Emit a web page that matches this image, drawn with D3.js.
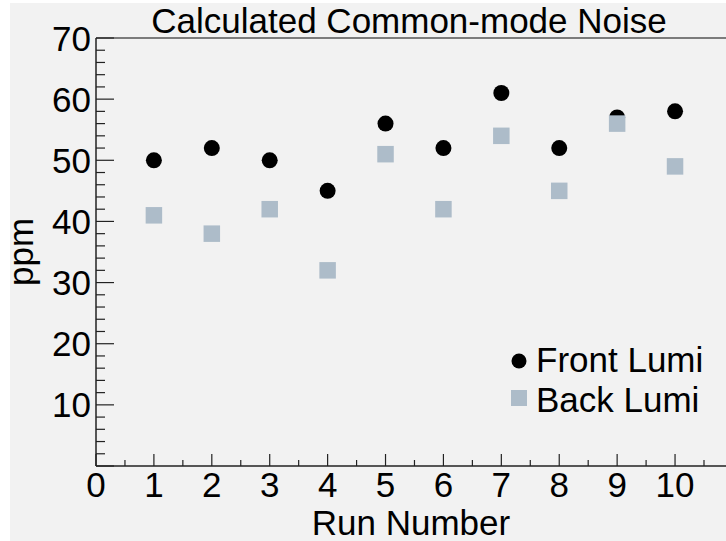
<!DOCTYPE html>
<html><head><meta charset="utf-8">
<script src="https://cdn.jsdelivr.net/npm/d3@7"></script>
<style>html,body{margin:0;padding:0;background:#fff;}svg{display:block;}text{font-family:"Liberation Sans",Arial,sans-serif;fill:#000;}</style>
</head><body>
<script>
const runs = [1,2,3,4,5,6,7,8,9,10];
const frontLumi = [50,52,50,45,56,52,61,52,57,58];
const backLumi = [41,38,42,32,51,42,54,45,56,49];
const xTicks = [0,1,2,3,4,5,6,7,8,9,10];
const yTicks = [10,20,30,40,50,60,70];
const seriesNames = ["Front Lumi","Back Lumi"];
const titleText = "Calculated Common-mode Noise";

const W = 726, H = 541, FS = 35;
const svg = d3.select("body").append("svg").attr("width", W).attr("height", H);
svg.append("rect").attr("x",10).attr("y",3).attr("width",W-10).attr("height",H-3).attr("fill","#f2f2f2");

const x = d3.scaleLinear().domain([0,10.88]).range([96,726]);
const y = d3.scaleLinear().domain([0,70]).range([466,38]);

// top frame
svg.append("line").attr("x1",96).attr("x2",W).attr("y1",y(70)).attr("y2",y(70)).attr("stroke","#555").attr("stroke-width",1.5);

// y axis
const yAxis = svg.append("g");
yAxis.append("line").attr("x1",96).attr("x2",96).attr("y1",y(0)).attr("y2",y(70)).attr("stroke","#222").attr("stroke-width",1.5);
const yMinor = d3.range(0,71,2);
yAxis.selectAll("line.t").data(yMinor).join("line").attr("class","t")
  .attr("x1",96).attr("x2",d=>d%10===0?114:105)
  .attr("y1",d=>y(d)).attr("y2",d=>y(d)).attr("stroke","#222").attr("stroke-width",1.2);
yAxis.selectAll("text").data(yTicks).join("text")
  .attr("x",91).attr("y",d=>y(d)+12.5).attr("text-anchor","end").attr("font-size",FS).text(d=>d);

// x axis
const xAxis = svg.append("g");
xAxis.append("line").attr("x1",96).attr("x2",W).attr("y1",y(0)).attr("y2",y(0)).attr("stroke","#222").attr("stroke-width",1.5);
const xMinor = d3.range(0,10.9,0.5);
xAxis.selectAll("line.t").data(xMinor).join("line").attr("class","t")
  .attr("x1",d=>x(d)).attr("x2",d=>x(d))
  .attr("y1",y(0)).attr("y2",d=>Number.isInteger(d)?y(0)-12:y(0)-6).attr("stroke","#222").attr("stroke-width",1.2);
xAxis.selectAll("text").data(xTicks).join("text")
  .attr("x",d=>x(d)).attr("y",y(0)+31).attr("text-anchor","middle").attr("font-size",FS).text(d=>d);

// titles
svg.append("text").attr("x",409).attr("y",33).attr("text-anchor","middle").attr("font-size",FS).text(titleText);
svg.append("text").attr("x",411).attr("y",535).attr("text-anchor","middle").attr("font-size",FS).text("Run Number");
svg.append("text").attr("transform","translate(33,252) rotate(-90)").attr("text-anchor","middle").attr("font-size",FS).text("ppm");

// data
svg.append("g").selectAll("circle").data(runs).join("circle")
  .attr("cx",(d)=>x(d)).attr("cy",(d,i)=>y(frontLumi[i])).attr("r",8).attr("fill","#000");
const S = 16.5;
svg.append("g").selectAll("rect").data(runs).join("rect")
  .attr("x",d=>x(d)-S/2).attr("y",(d,i)=>y(backLumi[i])-S/2).attr("width",S).attr("height",S).attr("fill","#adbcc9");

// legend
const lg = svg.append("g");
lg.append("circle").attr("cx",519).attr("cy",361).attr("r",7.5).attr("fill","#000");
lg.append("rect").attr("x",519-8).attr("y",398-8).attr("width",16).attr("height",16).attr("fill","#adbcc9");
lg.append("text").attr("x",536).attr("y",372).attr("font-size",FS).text(seriesNames[0]);
lg.append("text").attr("x",536).attr("y",412).attr("font-size",FS).text(seriesNames[1]);
</script>
</body></html>
